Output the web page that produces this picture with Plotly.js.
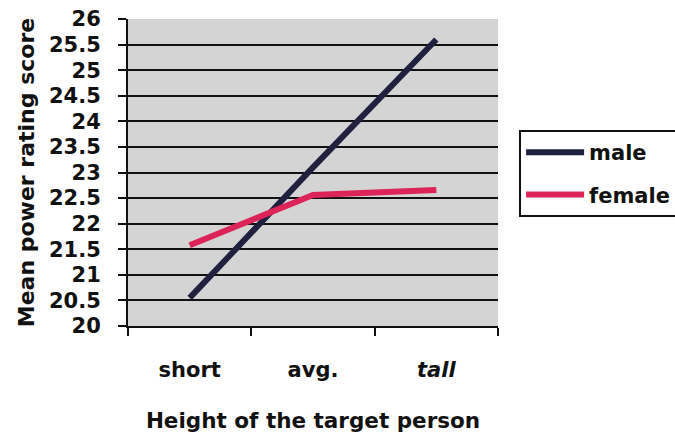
<!DOCTYPE html>
<html>
<head>
<meta charset="utf-8">
<script src="https://cdn.plot.ly/plotly-3.0.1.min.js"></script>
<style>html,body{margin:0;padding:0;background:#fff;}#chart{width:675px;height:439px;}</style>
</head>
<body>
<div id="chart"></div>
<script>
const categories = ["short", "avg.", "tall"];
const tickLabels = ["short", "avg.", "<i>tall</i>"];
const maleValues = [20.55, 23.1, 25.6];
const femaleValues = [21.58, 22.56, 22.66];
const seriesNames = ["male", "female"];
const yTicks = [20, 20.5, 21, 21.5, 22, 22.5, 23, 23.5, 24, 24.5, 25, 25.5, 26];

const fontFamily = "DejaVu Sans, Verdana, sans-serif";
const traces = [
  {x: categories, y: maleValues, name: seriesNames[0], type: "scatter", mode: "lines",
   legendgroup: "g1", line: {color: "#20213f", width: 6}},
  {x: categories, y: femaleValues, name: seriesNames[1], type: "scatter", mode: "lines",
   legendgroup: "g2", line: {color: "#dc2458", width: 6}}
];
const layout = {
  width: 675, height: 439,
  margin: {l: 128, r: 177, t: 19, b: 113, autoexpand: false},
  paper_bgcolor: "#ffffff",
  plot_bgcolor: "#d4d4d4",
  font: {family: fontFamily, size: 21, color: "#111", weight: "bold"},
  showlegend: true,
  legend: {x: 1.057, y: 0.638, xanchor: "left", yanchor: "top",
    bordercolor: "#111", borderwidth: 2, bgcolor: "#ffffff",
    font: {family: fontFamily, size: 21, color: "#111", weight: "bold"},
    tracegroupgap: 12, itemwidth: 58},
  xaxis: {
    type: "category", range: [-0.5, 2.5],
    tickmode: "array", tickvals: categories, ticktext: tickLabels,
    tickson: "boundaries", ticks: "outside", ticklen: 8, tickwidth: 2, tickcolor: "#111",
    showline: true, linecolor: "#111", linewidth: 2,
    showgrid: false, zeroline: false,
    ticklabelstandoff: 24,
    tickfont: {family: fontFamily, size: 21, color: "#111", weight: "bold"},
    title: {text: "Height of the target person", standoff: 32,
      font: {family: fontFamily, size: 21.5, color: "#111", weight: "bold"}}
  },
  yaxis: {
    range: [20, 26], tickmode: "array", tickvals: yTicks,
    ticktext: yTicks.map(String),
    ticks: "outside", ticklen: 8, tickwidth: 2, tickcolor: "#111",
    showline: true, linecolor: "#111", linewidth: 2,
    showgrid: true, gridcolor: "#111", gridwidth: 2, zeroline: false,
    ticklabelstandoff: 13,
    tickfont: {family: fontFamily, size: 21, color: "#111", weight: "bold"},
    title: {text: "Mean power rating score", standoff: 8,
      font: {family: fontFamily, size: 22, color: "#111", weight: "bold"}}
  }
};
Plotly.newPlot("chart", traces, layout, {staticPlot: true});
</script>
</body>
</html>
